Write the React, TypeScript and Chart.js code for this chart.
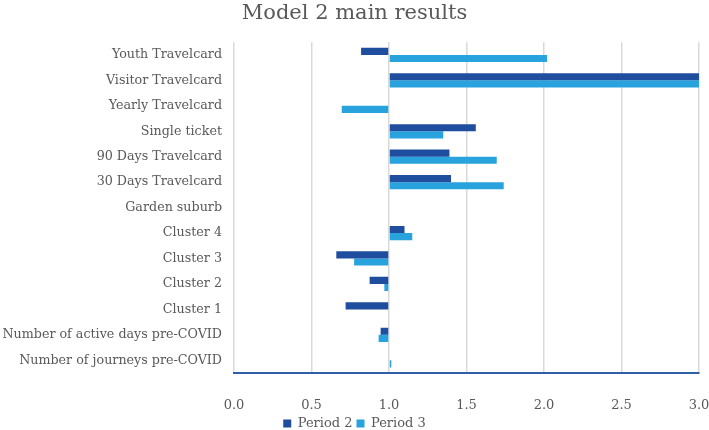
import React, { useEffect, useRef } from "react";
import { Chart, registerables } from "chart.js";

Chart.register(...registerables);

const categories = [
  "Youth Travelcard",
  "Visitor Travelcard",
  "Yearly Travelcard",
  "Single ticket",
  "90 Days Travelcard",
  "30 Days Travelcard",
  "Garden suburb",
  "Cluster 4",
  "Cluster 3",
  "Cluster 2",
  "Cluster 1",
  "Number of active days pre-COVID",
  "Number of journeys pre-COVID",
];

const period2 = [0.82, 3.0, null, 1.56, 1.39, 1.4, null, 1.1, 0.66, 0.875, 0.72, 0.946, null];
const period3 = [2.02, 3.0, 0.695, 1.35, 1.695, 1.74, null, 1.15, 0.775, 0.97, 0.995, 0.933, 1.015];

const xTicks = [0, 0.5, 1, 1.5, 2, 2.5, 3];

const FONT = "'DejaVu Serif', 'Liberation Serif', serif";
const TEXT = "#595959";

export default function App() {
  const ref = useRef<HTMLCanvasElement | null>(null);
  useEffect(() => {
    if (!ref.current) return;
    const chart = new Chart(ref.current, {
      type: "bar",
      data: {
        labels: categories,
        datasets: [
          {
            label: "Period 2",
            data: period2,
            base: 1,
            backgroundColor: "#1F4E9F",
            categoryPercentage: 0.56,
            barPercentage: 1,
          } as any,
          {
            label: "Period 3",
            data: period3,
            base: 1,
            backgroundColor: "#29A3DD",
            categoryPercentage: 0.56,
            barPercentage: 1,
          } as any,
        ],
      },
      options: {
        indexAxis: "y",
        animation: false,
        responsive: false,
        maintainAspectRatio: false,
        layout: { padding: { left: 0, right: 0, top: 0, bottom: -10 } },
        plugins: {
          title: {
            display: true,
            text: "Model 2 main results",
            color: TEXT,
            font: { family: FONT, size: 21, weight: "normal" },
            padding: { top: 1, bottom: 16 },
          },
          legend: {
            position: "bottom",
            labels: {
              color: TEXT,
              font: { family: FONT, size: 13 },
              boxWidth: 8,
              boxHeight: 8,
              padding: 4,
            },
          },
          tooltip: { enabled: false },
        },
        scales: {
          x: {
            type: "linear",
            min: 0,
            max: 3,
            afterBuildTicks: (s: any) => {
              s.ticks = xTicks.map((v) => ({ value: v }));
            },
            afterFit: (s: any) => {
              s.height = 40;
              s.paddingRight = 10;
              s.paddingLeft = 0;
            },
            ticks: {
              color: TEXT,
              font: { family: FONT, size: 13 },
              padding: 25,
              callback: (v: any) => Number(v).toFixed(1),
            },
            grid: { color: "#D9D9D9", lineWidth: 1.5, drawTicks: false },
            border: { display: true, color: "#2F5FA8", width: 2 },
          },
          y: {
            afterFit: (s: any) => {
              s.width = 234;
            },
            ticks: {
              color: TEXT,
              font: { family: FONT, size: 12.7 },
              padding: 12,
            },
            grid: { display: false, drawTicks: false },
            border: { display: false },
          },
        },
      },
    });
    return () => chart.destroy();
  }, []);
  return (
    <div style={{ position: "fixed", left: 0, top: 0, width: 709, height: 430, background: "#fff" }}>
      <canvas ref={ref} width={709} height={430} style={{ width: 709, height: 430 }} />
    </div>
  );
}
